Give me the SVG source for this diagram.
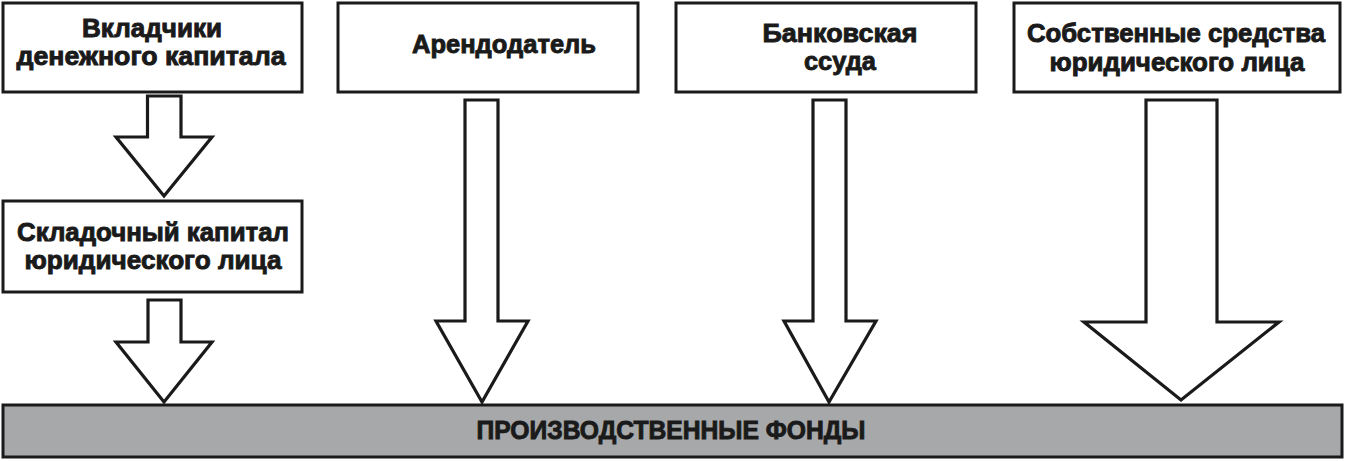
<svg xmlns="http://www.w3.org/2000/svg" width="1345" height="461" viewBox="0 0 1345 461">
<style>
.box{fill:#ffffff;stroke:#1a1a1a;stroke-width:3}
.bar{fill:#a7a8aa;stroke:#1a1a1a;stroke-width:3}
.arr{fill:#ffffff;stroke:#1a1a1a;stroke-width:3.2;stroke-linejoin:miter}
.t{font-family:"Liberation Sans",Arial,sans-serif;font-weight:bold;font-size:25px;fill:#1a1a1a;stroke:#1a1a1a;stroke-width:0.9;text-anchor:middle}
</style>
<rect width="1345" height="461" fill="#ffffff"/>
<g id="connectors">
<polygon class="arr" points="147.5,96 181,96 181,137 212,137 164,196 116,137 147.5,137"/>
<polygon class="arr" points="148,300 181,300 181,342 212,342 164,402 116,342 148,342"/>
<polygon class="arr" points="465,100 498,100 498,321 528,321 482,402 436,321 465,321"/>
<polygon class="arr" points="813,100 846,100 846,321 876,321 829,402 784,321 813,321"/>
<polygon class="arr" points="1146,100 1217,100 1217,322 1279,322 1181,400 1084,322 1146,322"/>
</g>
<g id="node-vkladchiki">
<rect class="box" x="3" y="3" width="299" height="89"/>
<text class="t" x="152" y="37" textLength="140" lengthAdjust="spacingAndGlyphs">Вкладчики</text>
<text class="t" x="151" y="65" textLength="269" lengthAdjust="spacingAndGlyphs">денежного капитала</text>
</g>
<g id="node-skladochny">
<rect class="box" x="3" y="201" width="299" height="91"/>
<text class="t" x="153" y="241" textLength="272" lengthAdjust="spacingAndGlyphs">Складочный капитал</text>
<text class="t" x="153" y="269" textLength="257" lengthAdjust="spacingAndGlyphs">юридического лица</text>
</g>
<g id="node-arendodatel">
<rect class="box" x="338" y="3" width="300" height="89"/>
<text class="t" x="504" y="53" textLength="184" lengthAdjust="spacingAndGlyphs">Арендодатель</text>
</g>
<g id="node-bank">
<rect class="box" x="676" y="3" width="300" height="89"/>
<text class="t" x="840" y="42" textLength="155" lengthAdjust="spacingAndGlyphs">Банковская</text>
<text class="t" x="840" y="70" textLength="72" lengthAdjust="spacingAndGlyphs">ссуда</text>
</g>
<g id="node-sobstvennye">
<rect class="box" x="1014" y="3" width="326" height="89"/>
<text class="t" x="1176" y="42" textLength="298" lengthAdjust="spacingAndGlyphs">Собственные средства</text>
<text class="t" x="1177" y="71" textLength="255" lengthAdjust="spacingAndGlyphs">юридического лица</text>
</g>
<g id="node-fondy">
<rect class="bar" x="3" y="405" width="1339" height="52"/>
<text class="t" x="671" y="439" textLength="389" lengthAdjust="spacingAndGlyphs">ПРОИЗВОДСТВЕННЫЕ ФОНДЫ</text>
</g>
</svg>
